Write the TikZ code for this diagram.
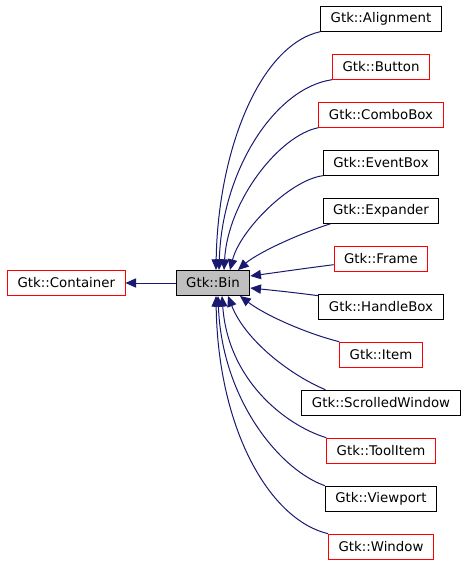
\documentclass[tikz,border=0pt]{standalone}
\usepackage{fontspec}
\setmainfont{DejaVu Sans}
\usetikzlibrary{arrows.meta,calc}
\definecolor{edgeblue}{HTML}{191970}
\definecolor{binfill}{HTML}{BFBFBF}

\begin{document}
\begin{tikzpicture}[x=0.75pt,y=-0.75pt,
box/.style={draw,line width=0.75pt,minimum height=18.75pt,inner xsep=7.5pt,inner ysep=0pt,
  font=\fontsize{10}{12}\selectfont},
inherit/.style={draw=edgeblue,line width=0.75pt,-{Triangle[length=8pt,width=7pt]}}
]
\useasboundingbox (0,0) rectangle (467,563);

% The classes
\node[box,draw=red] (container) at (66.3,283) {Gtk::Container};
\node[box,fill=binfill] (bin) at (213,283) {Gtk::Bin};
\foreach \name/\txt/\col [count=\i from 0] in {align/Alignment/black,button/Button/red,
  combo/ComboBox/red,event/EventBox/black,expander/Expander/black,frame/Frame/red,
  handle/HandleBox/black,item/Item/red,scrolled/ScrolledWindow/black,tool/ToolItem/red,
  viewport/Viewport/black,window/Window/red}
  \node[box,draw=\col] (\name) at (381,18.7+48*\i) {Gtk::\txt};

% The edges
\draw[inherit] (bin) -- (container);
\draw[inherit] (align.south west) .. controls (260,45) and (218,150) .. ($(bin.north)+(3,0)$);
\draw[inherit] (button.south west) .. controls (275,88) and (222,170) .. ($(bin.north)+(6,0)$);
\draw[inherit] (combo.south west) .. controls (280,135) and (228,200) .. ($(bin.north)+(11,0)$);
\draw[inherit] (event.south west) .. controls (290,180) and (240,230) .. ($(bin.north)+(17,0)$);
\draw[inherit] ($(expander.south west)+(8,0)$) .. controls (290,237) and (255,255) .. ($(bin.north)+(25,0)$);
\draw[inherit] ($(frame.west)+(0,6)$) .. controls (300,269) and (280,272) .. ($(bin.east)+(0,-7)$);
\draw[inherit] ($(handle.west)+(0,-11)$) .. controls (290,292) and (270,290) .. ($(bin.east)+(0,5)$);
\draw[inherit] (item.north west) .. controls (305,333) and (265,315) .. ($(bin.south)+(27,0)$);
\draw[inherit] ($(scrolled.north west)+(24,0)$) .. controls (290,375) and (245,340) .. ($(bin.south)+(15,0)$);
\draw[inherit] (tool.north west) .. controls (285,425) and (228,380) .. ($(bin.south)+(9,0)$);
\draw[inherit] (viewport.north west) .. controls (280,470) and (222,400) .. ($(bin.south)+(5,0)$);
\draw[inherit] (window.north west) .. controls (270,520) and (218,430) .. ($(bin.south)+(3,0)$);
\end{tikzpicture}
\end{document}
